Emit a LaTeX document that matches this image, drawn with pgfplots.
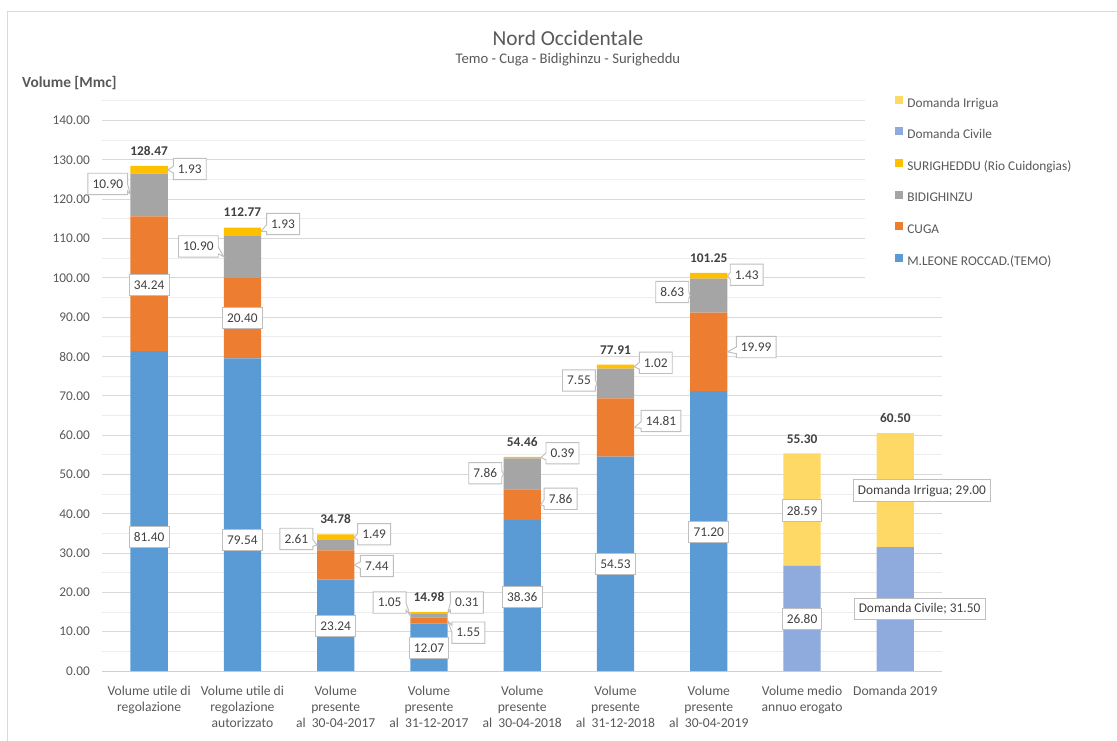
\documentclass[border=0pt]{standalone}
\usepackage{fontspec}
\setmainfont{Carlito}
\usepackage{pgfplots}
\pgfplotsset{compat=1.18}
\usetikzlibrary{shapes.callouts}
\definecolor{cTemo}{HTML}{5B9BD5}
\definecolor{cCuga}{HTML}{ED7D31}
\definecolor{cBidi}{HTML}{A5A5A5}
\definecolor{cSuri}{HTML}{FFC000}
\definecolor{cCiv}{HTML}{8FAADC}
\definecolor{cIrr}{HTML}{FFD966}
\definecolor{txtgray}{HTML}{595959}
\definecolor{lbltxt}{HTML}{404040}
\definecolor{gridmaj}{HTML}{D9D9D9}
\definecolor{gridmin}{HTML}{EDEDED}
\definecolor{axisgray}{HTML}{D0D0D0}
\definecolor{boxgray}{HTML}{BFBFBF}
\definecolor{bordergray}{HTML}{D9D9D9}
\tikzset{
  lbl/.style={draw=boxgray, fill=white, line width=0.7pt, font=\fontsize{10}{12}\selectfont, text=lbltxt,
    inner xsep=3.5pt, inner ysep=0pt, minimum height=16pt},
  cl/.style={lbl, rectangle callout, callout absolute pointer={#1}, callout pointer width=5pt},
  tot/.style={font=\bfseries\fontsize{10}{12}\selectfont, text=lbltxt, inner sep=0pt}
}
\begin{document}
\begin{tikzpicture}
\useasboundingbox (-76.875pt,-51.75pt) rectangle (760.875pt,503.25pt);
\draw[bordergray, line width=0.75pt] (-70.9pt,-60pt) -- (-70.9pt,494.25pt) -- (780pt,494.25pt);
\begin{axis}[
  at={(0pt,0pt)}, anchor=south west,
  scale only axis, width=629.6pt, height=427.5pt,
  ybar stacked, bar width=0.4,
  xmin=-0.5, xmax=8.5, ymin=0, ymax=145,
  axis x line*=bottom, axis y line*=left,
  x axis line style={draw=axisgray, line width=0.75pt, -},
  y axis line style={draw=none},
  xtick={0,...,8},
  xticklabels={{Volume utile di\\regolazione},{Volume utile di\\regolazione\\autorizzato},{Volume\\presente\\al\ \ 30-04-2017},{Volume\\presente\\al\ \ 31-12-2017},{Volume\\presente\\al\ \ 30-04-2018},{Volume\\presente\\al\ \ 31-12-2018},{Volume\\presente\\al\ \ 30-04-2019},{Volume medio\\annuo erogato},{Domanda 2019}},
  xticklabel style={align=center, font=\fontsize{10.2}{11.9}\selectfont, text=txtgray, yshift=-8pt},
  x tick style={draw=none},
  extra x ticks={-0.5,0.5,1.5,2.5,3.5,4.5,5.5,6.5,7.5,8.5},
  extra x tick labels={},
  extra x tick style={tick style={draw=axisgray, line width=0.75pt}, major tick length=4pt, tick align=outside},
  ytick={0,10,...,140},
  minor ytick={5,15,...,145},
  y tick style={draw=none},
  ymajorgrids, yminorgrids,
  major grid style={draw=gridmaj, line width=0.75pt},
  minor grid style={draw=gridmin, line width=0.75pt},
  scaled y ticks=false,
  yticklabel style={font=\fontsize{10}{12}\selectfont, text=txtgray, xshift=-6pt, /pgf/number format/.cd, fixed, fixed zerofill, precision=2, assume math mode=true},
  reverse legend,
  legend cell align=left,
  legend image code/.code={\fill[#1] (0pt,0pt) rectangle (6pt,6pt);},
  legend style={at={(0.9084,1.0283)}, anchor=north west, fill=white, draw=none,
    inner xsep=22.5pt, inner ysep=8pt, row sep=13.2pt, column sep=3pt,
    font=\fontsize{10}{12}\selectfont, text=txtgray,
    nodes={inner sep=0pt, text height=7pt, text depth=2pt}},
]
\addplot[fill=cTemo, draw=none] coordinates {(0,81.40) (1,79.54) (2,23.24) (3,12.07) (4,38.36) (5,54.53) (6,71.20) (7,0) (8,0)};
\addlegendentry{M.LEONE ROCCAD.(TEMO)}
\addplot[fill=cCuga, draw=none] coordinates {(0,34.24) (1,20.40) (2,7.44) (3,1.55) (4,7.86) (5,14.81) (6,19.99) (7,0) (8,0)};
\addlegendentry{CUGA}
\addplot[fill=cBidi, draw=none] coordinates {(0,10.90) (1,10.90) (2,2.61) (3,1.05) (4,7.86) (5,7.55) (6,8.63) (7,0) (8,0)};
\addlegendentry{BIDIGHINZU}
\addplot[fill=cSuri, draw=none] coordinates {(0,1.93) (1,1.93) (2,1.49) (3,0.31) (4,0.39) (5,1.02) (6,1.43) (7,0) (8,0)};
\addlegendentry{SURIGHEDDU (Rio Cuidongias)}
\addplot[fill=cCiv, draw=none] coordinates {(0,0) (1,0) (2,0) (3,0) (4,0) (5,0) (6,0) (7,26.80) (8,31.50)};
\addlegendentry{Domanda Civile}
\addplot[fill=cIrr, draw=none] coordinates {(0,0) (1,0) (2,0) (3,0) (4,0) (5,0) (6,0) (7,28.59) (8,29.00)};
\addlegendentry{Domanda Irrigua}

% label anchor points (axis coordinates)
\coordinate (T0) at (axis cs:0,132.3);
\coordinate (A0) at (axis cs:0.254,127.7); \coordinate (pA0) at (axis cs:0.2,127.5);
\coordinate (B0) at (axis cs:-0.225,123.9); \coordinate (pB0) at (axis cs:-0.2,121.2);
\coordinate (C0) at (axis cs:0,98.2); \coordinate (D0) at (axis cs:0,34.1);
\coordinate (T1) at (axis cs:1,116.6);
\coordinate (A1) at (axis cs:1.254,113.7); \coordinate (pA1) at (axis cs:1.2,111.8);
\coordinate (B1) at (axis cs:0.746,108.0); \coordinate (pB1) at (axis cs:0.8,105.4);
\coordinate (C1) at (axis cs:1,89.8); \coordinate (D1) at (axis cs:1,33.3);
\coordinate (T2) at (axis cs:2,38.6);
\coordinate (A2) at (axis cs:2.23,34.8); \coordinate (pA2) at (axis cs:2.2,34.0);
\coordinate (B2) at (axis cs:1.76,33.6); \coordinate (pB2) at (axis cs:1.8,32.0);
\coordinate (E2) at (axis cs:2.26,26.7); \coordinate (pE2) at (axis cs:2.2,27.0);
\coordinate (D2) at (axis cs:2,11.45);
\coordinate (T3) at (axis cs:3,18.8);
\coordinate (A3) at (axis cs:3.225,17.4); \coordinate (pA3) at (axis cs:3.2,14.8);
\coordinate (B3) at (axis cs:2.76,17.4); \coordinate (pB3) at (axis cs:2.8,14.1);
\coordinate (E3) at (axis cs:3.24,9.75); \coordinate (pE3) at (axis cs:3.2,12.8);
\coordinate (D3) at (axis cs:3,5.8);
\coordinate (T4) at (axis cs:4,58.3);
\coordinate (A4) at (axis cs:4.25,55.4); \coordinate (pA4) at (axis cs:4.2,54.3);
\coordinate (B4) at (axis cs:3.785,50.3); \coordinate (pB4) at (axis cs:3.8,50.1);
\coordinate (E4) at (axis cs:4.23,43.8); \coordinate (pE4) at (axis cs:4.2,42.3);
\coordinate (D4) at (axis cs:4,18.9);
\coordinate (T5) at (axis cs:5,81.7);
\coordinate (A5) at (axis cs:5.25,78.4); \coordinate (pA5) at (axis cs:5.2,77.4);
\coordinate (B5) at (axis cs:4.79,73.9); \coordinate (pB5) at (axis cs:4.8,73.1);
\coordinate (E5) at (axis cs:5.27,63.6); \coordinate (pE5) at (axis cs:5.2,61.9);
\coordinate (D5) at (axis cs:5,27.2);
\coordinate (T6) at (axis cs:6,105.05);
\coordinate (A6) at (axis cs:6.225,100.8); \coordinate (pA6) at (axis cs:6.2,100.5);
\coordinate (B6) at (axis cs:5.79,96.4); \coordinate (pB6) at (axis cs:5.8,95.5);
\coordinate (E6) at (axis cs:6.29,82.4); \coordinate (pE6) at (axis cs:6.2,81.2);
\coordinate (D6) at (axis cs:6,35.4);
\coordinate (T7) at (axis cs:7,59.0); \coordinate (C7) at (axis cs:7,40.8); \coordinate (D7) at (axis cs:7,13.2);
\coordinate (T8) at (axis cs:8,64.3); \coordinate (C8) at (axis cs:8.285,45.9); \coordinate (D8) at (axis cs:8.26,15.8);
\end{axis}
% data labels (drawn over the bars)
\node[tot] at (T0) {128.47};
\node[cl={(pA0)}, anchor=west] at (A0) {1.93};
\node[cl={(pB0)}, anchor=east] at (B0) {10.90};
\node[lbl] at (C0) {34.24};
\node[lbl] at (D0) {81.40};
\node[tot] at (T1) {112.77};
\node[cl={(pA1)}, anchor=west] at (A1) {1.93};
\node[cl={(pB1)}, anchor=east] at (B1) {10.90};
\node[lbl] at (C1) {20.40};
\node[lbl] at (D1) {79.54};
\node[tot] at (T2) {34.78};
\node[cl={(pA2)}, anchor=west] at (A2) {1.49};
\node[cl={(pB2)}, anchor=east] at (B2) {2.61};
\node[cl={(pE2)}, anchor=west] at (E2) {7.44};
\node[lbl] at (D2) {23.24};
\node[tot] at (T3) {14.98};
\node[cl={(pA3)}, anchor=west] at (A3) {0.31};
\node[cl={(pB3)}, anchor=east] at (B3) {1.05};
\node[cl={(pE3)}, anchor=west] at (E3) {1.55};
\node[lbl] at (D3) {12.07};
\node[tot] at (T4) {54.46};
\node[cl={(pA4)}, anchor=west] at (A4) {0.39};
\node[cl={(pB4)}, anchor=east] at (B4) {7.86};
\node[cl={(pE4)}, anchor=west] at (E4) {7.86};
\node[lbl] at (D4) {38.36};
\node[tot] at (T5) {77.91};
\node[cl={(pA5)}, anchor=west] at (A5) {1.02};
\node[cl={(pB5)}, anchor=east] at (B5) {7.55};
\node[cl={(pE5)}, anchor=west] at (E5) {14.81};
\node[lbl] at (D5) {54.53};
\node[tot] at (T6) {101.25};
\node[cl={(pA6)}, anchor=west] at (A6) {1.43};
\node[cl={(pB6)}, anchor=east] at (B6) {8.63};
\node[cl={(pE6)}, anchor=west] at (E6) {19.99};
\node[lbl] at (D6) {71.20};
\node[tot] at (T7) {55.30};
\node[lbl] at (C7) {28.59};
\node[lbl] at (D7) {26.80};
\node[tot] at (T8) {60.50};
\node[lbl] at (C8) {Domanda Irrigua; 29.00};
\node[lbl] at (D8) {Domanda Civile; 31.50};
% titles
\node[font=\fontsize{16}{19}\selectfont, text=txtgray] at (349.1pt,474.75pt) {Nord Occidentale};
\node[font=\fontsize{11}{13}\selectfont, text=txtgray] at (349.1pt,458.25pt) {Temo - Cuga - Bidighinzu - Surigheddu};
\node[font=\bfseries\fontsize{11.5}{13}\selectfont, text=txtgray, anchor=west, inner sep=0pt] at (-60.4pt,441pt) {Volume [Mmc]};
\end{tikzpicture}
\end{document}
